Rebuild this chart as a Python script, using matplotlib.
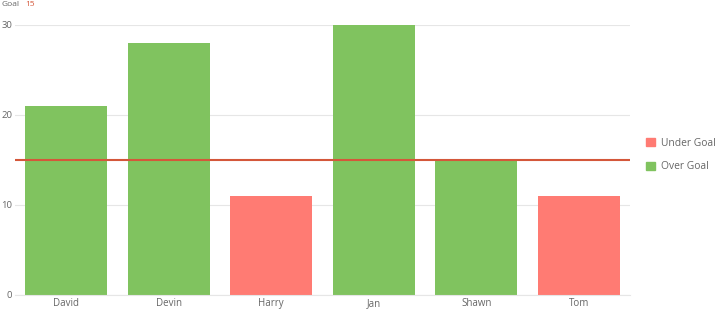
import matplotlib.pyplot as plt
from matplotlib.patches import Patch

plt.rcParams['font.family'] = ['Open Sans', 'DejaVu Sans']

names = ["David", "Devin", "Harry", "Jan", "Shawn", "Tom"]
scores = [21, 28, 11, 30, 15, 11]
goal = 15
yticks = [0, 10, 20, 30]

GREEN = "#80c35f"
RED = "#ff7b73"
GOAL_RED = "#d4573a"
GREY = "#666666"

fig = plt.figure(figsize=(7.17, 3.09), dpi=100, facecolor="white")
ax = fig.add_axes([15 / 717, 14 / 309, 615 / 717, 270 / 309])

colors = [GREEN if s >= goal else RED for s in scores]
x = list(range(len(names)))
ax.bar(x, scores, width=0.8, color=colors, zorder=2)
ax.axhline(goal, color=GOAL_RED, linewidth=1.5, zorder=3)

ax.set_xlim(-0.5, len(names) - 0.5)
ax.set_ylim(0, 30)
ax.set_yticks(yticks)
ax.set_xticks(x)
ax.set_xticklabels(names)
ax.grid(axis="y", color="#e6e6e6", linewidth=0.8, zorder=0)
for side in ["top", "right", "left"]:
    ax.spines[side].set_visible(False)
ax.spines["bottom"].set_color("#e6e6e6")
ax.tick_params(axis="y", length=0, pad=2, labelsize=6.8, labelcolor=GREY)
ax.tick_params(axis="x", length=0, pad=2, labelsize=7, labelcolor=GREY)

fig.text(2 / 717, 1 - 4 / 309, "Goal", fontsize=6, color=GREY, va="center")
fig.text(25 / 717, 1 - 4 / 309, str(goal), fontsize=6, color=GOAL_RED, va="center")

handles = [Patch(color=RED, label="Under Goal"), Patch(color=GREEN, label="Over Goal")]
fig.legend(handles=handles, loc="center left", bbox_to_anchor=(644 / 717, 1 - 155 / 309),
           frameon=False, fontsize=7.4, labelcolor=GREY, handlelength=0.9,
           handleheight=0.9, handletextpad=0.6, labelspacing=1.25, borderaxespad=0,
           borderpad=0.2)

fig.savefig("out.png", dpi=100)
